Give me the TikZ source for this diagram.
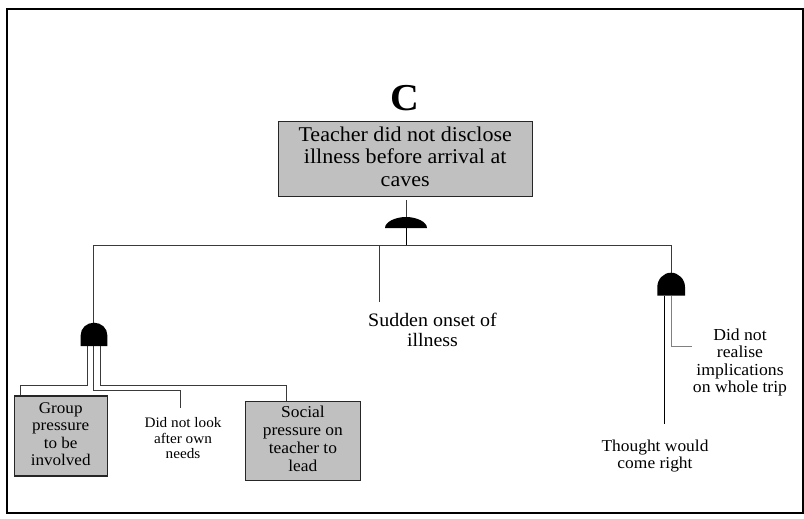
\documentclass[tikz,border=0pt]{standalone}
\usepackage{fontspec}
\setmainfont{Liberation Serif}
\usepackage{graphicx}
\definecolor{boxgray}{HTML}{C0C0C0}
\definecolor{wiregray}{HTML}{3A3A3A}
\definecolor{lightwire}{HTML}{808080}
% centred multi-line text, set slightly wide
\newcommand{\ftlines}[3]{\scalebox{1.05}[1]{\fontsize{#1}{#2}\selectfont\begin{tabular}{@{}c@{}}#3\end{tabular}}}
\begin{document}
\begin{tikzpicture}[x=1pt,y=-1pt]
\tikzset{
  evbox/.style={draw=black!85, fill=boxgray, line width=1.1pt, inner sep=0pt},
  lbl/.style={inner sep=0pt, align=center},
  wire/.style={line width=1pt, draw=wiregray},
  gatefill/.style={fill=black, draw=none},
  frame/.style={line width=2.2pt, draw=black}
}
\useasboundingbox (0,0) rectangle (804,519);
\draw[frame] (6.8,8.8) rectangle (802.8,513.3);

% title letter and top event
\node[lbl] (title) at (405,98) {\scalebox{1.05}[1]{\fontsize{38}{38}\selectfont\bfseries C}};
\node[evbox, minimum width=253.7pt, minimum height=75pt] (top) at (405.2,159.2)
  {\ftlines{21}{22.5}{Teacher did not disclose\\illness before arrival at\\caves}};

% basic events and labels
\node[lbl] (sudden) at (432.5,332) {\ftlines{19}{20}{Sudden onset of\\illness}};
\node[evbox, minimum width=93.3pt, minimum height=80pt] (group) at (60.7,436)
  {\ftlines{16.3}{17.5}{Group\\pressure\\to be\\involved}};
\node[lbl] (look) at (183,440) {\ftlines{14.5}{15.6}{Did not look\\after own\\needs}};
\node[evbox, minimum width=114.3pt, minimum height=79pt] (social) at (302.9,441.2)
  {\ftlines{16.6}{18}{Social\\pressure on\\teacher to\\lead}};
\node[lbl] (realise) at (740,363) {\ftlines{16.8}{17.6}{Did not\\realise\\implications\\on whole trip}};
\node[lbl] (thought) at (655,457) {\ftlines{16.6}{16.7}{Thought would\\come right}};

% junction points
\coordinate (topout) at (406,200);
\coordinate (busmid) at (406,245);
\coordinate (busL) at (93.3,245);
\coordinate (busR) at (671,245);
\coordinate (busS) at (379.3,245);
\coordinate (suddenend) at (379.3,301.7);
\coordinate (gLtop) at (93.3,322.7);
\coordinate (gRtop) at (671,272.7);
\coordinate (gLa) at (87,346);
\coordinate (gLb) at (93.7,346);
\coordinate (gLc) at (100.3,346);
\coordinate (turnA) at (20.7,385);
\coordinate (turnB) at (180,390);
\coordinate (lookend) at (180,408);
\coordinate (turnC) at (286,385);
\coordinate (gRa) at (664.3,295.7);
\coordinate (gRb) at (671,295.7);
\coordinate (thoughtend) at (664.3,424);
\coordinate (realiseend) at (691.7,346);

% connectors
\draw[wire] (topout) -- (busmid);
\draw[wire] (gLtop) -- (busL) -- (busR) -- (gRtop);
\draw[wire] (busS) -- (suddenend);
\draw[wire] (gLa) |- (turnA) -- (turnA |- group.north);
\draw[wire] (gLb) |- (turnB) -- (lookend);
\draw[wire] (gLc) |- (turnC) -- (turnC |- social.north);
\draw[wire, draw=black] (gRa) -- (thoughtend);
\draw[wire, draw=lightwire] (gRb) |- (realiseend);

% gates
\fill[gatefill] (385,228) .. controls (385,221.9) and (395.4,217) .. (406,217)
  .. controls (416.6,217) and (427,221.9) .. (427,228) -- cycle;
\fill[gatefill] (80.7,346) -- (80.7,335) .. controls (80.7,328.2) and (86.7,322.7) .. (94,322.7)
  .. controls (101.3,322.7) and (107.3,328.2) .. (107.3,335) -- (107.3,346) -- cycle;
\fill[gatefill] (657.3,295.7) -- (657.3,287) .. controls (657.3,279.2) and (663.5,272.7) .. (671,272.7)
  .. controls (678.5,272.7) and (685,279.2) .. (685,287) -- (685,295.7) -- cycle;
\draw[wire, draw=black] (406,217) -- (busmid);
\end{tikzpicture}
\end{document}
